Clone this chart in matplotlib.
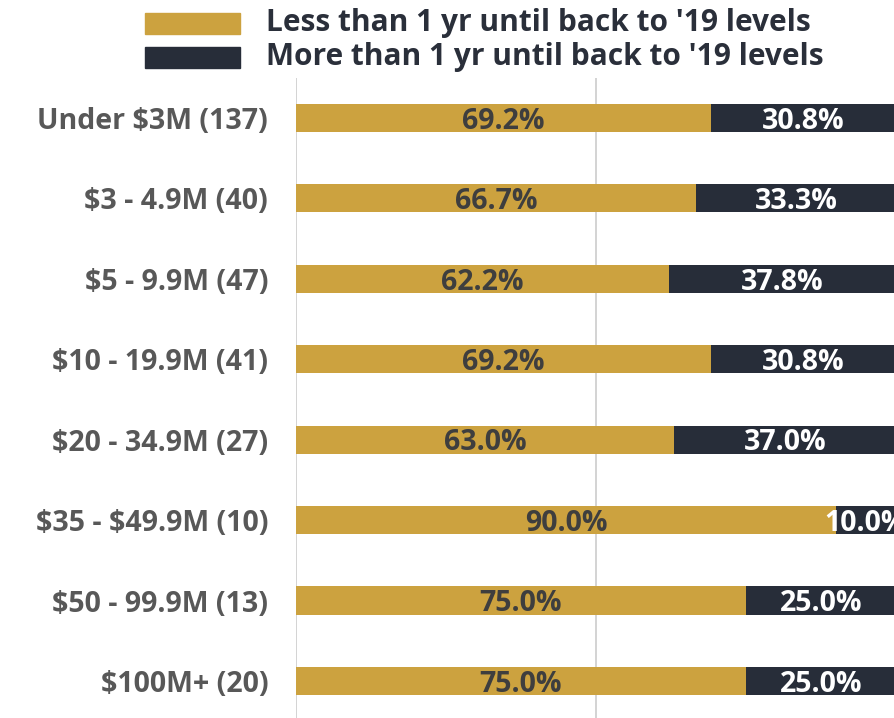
import matplotlib
matplotlib.use("Agg")
import matplotlib.pyplot as plt
from matplotlib.patches import Rectangle

categories = ["Under $3M (137)", "$3 - 4.9M (40)", "$5 - 9.9M (47)", "$10 - 19.9M (41)",
              "$20 - 34.9M (27)", "$35 - $49.9M (10)", "$50 - 99.9M (13)", "$100M+ (20)"]
less_than = [69.2, 66.7, 62.2, 69.2, 63.0, 90.0, 75.0, 75.0]
more_than = [30.8, 33.3, 37.8, 30.8, 37.0, 10.0, 25.0, 25.0]
series_names = ["Less than 1 yr until back to '19 levels",
                "More than 1 yr until back to '19 levels"]

GOLD = "#CCA23F"
NAVY = "#272D39"
FONT = ["Open Sans", "DejaVu Sans"]
plt.rcParams["font.family"] = FONT

W, H = 894, 718
fig = plt.figure(figsize=(W / 100, H / 100), dpi=100)
ax = fig.add_axes([296 / W, 0, 1 - 296 / W, 1 - 78 / H])

y = list(range(len(categories)))
ax.barh(y, less_than, height=0.35, color=GOLD)
ax.barh(y, more_than, left=less_than, height=0.35, color=NAVY)

for i, (a, b) in enumerate(zip(less_than, more_than)):
    ax.text(a / 2, i + 0.04, f"{a:.1f}%", ha="center", va="center",
            fontsize=20.5, fontweight="bold", color="#3E3E3E")
    ax.text(a + b / 2, i + 0.04, f"{b:.1f}%", ha="center", va="center",
            fontsize=20.5, fontweight="bold", color="white")

ax.set_xlim(0, 99.67)
ax.set_ylim(7.46, -0.497)
ax.set_axisbelow(True)
for gx in (0, 50):
    ax.axvline(gx, color="#D0D0D0", lw=1.3, zorder=0)
ax.set_yticks(y)
ax.set_yticklabels([c.replace("$", r"\$") for c in categories],
                   fontsize=20.5, fontweight="bold", color="#585858")
ax.tick_params(axis="y", length=0, pad=20)
ax.set_xticks([])
for s in ax.spines.values():
    s.set_visible(False)

# legend
for k, (name, col) in enumerate(zip(series_names, [GOLD, NAVY])):
    top = 13 + k * 34
    fig.patches.append(Rectangle((145 / W, 1 - (top + 21) / H), 95 / W, 21 / H,
                                 transform=fig.transFigure, color=col))
    fig.text(266 / W, 1 - (top + 10.5) / H, name, fontsize=21.5, fontweight="bold",
             color="#2A2F3A", va="center", ha="left")

fig.savefig("out.png", dpi=100)
